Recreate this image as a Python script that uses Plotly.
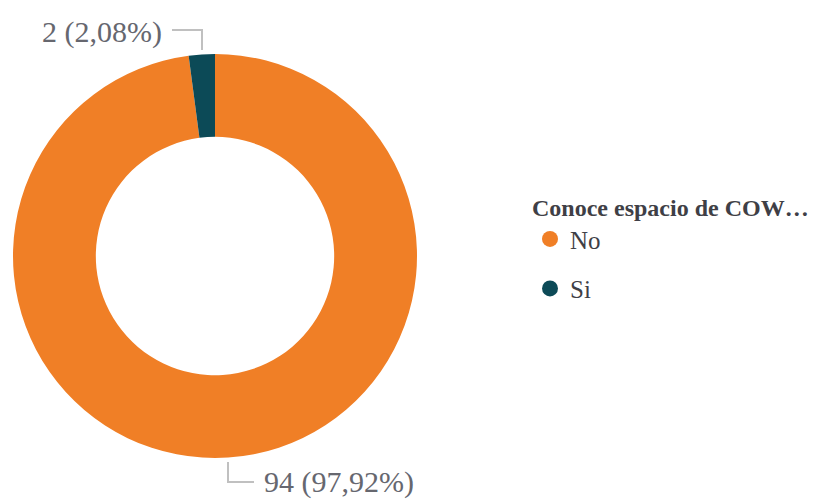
import plotly.graph_objects as go

categories = ["No", "Si"]
values = [94, 2]
colors = ["#F07F26", "#0C4A57"]
legend_title = "Conoce espacio de COW…"

# page has an 8px body margin; the figure fills the rest of the 817x502 window
OFF = 8
W, H = 817 - OFF, 502 - OFF
total = sum(values)

def fmt(v):
    pct = v / total * 100
    return f"{v} ({pct:.2f}%)".replace(".", ",")

def px(x, y):
    return (x - OFF) / W, 1 - (y - OFF) / H

fig = go.Figure()
dx0, dy1 = px(13, 54)
dx1, dy0 = px(417, 458)
fig.add_trace(go.Pie(
    labels=categories, values=values, hole=0.59, sort=False,
    direction="clockwise", rotation=0,
    marker=dict(colors=colors, line=dict(width=0)),
    textinfo="none", showlegend=False, hoverinfo="label+value+percent",
    domain=dict(x=[dx0, dx1], y=[dy0, dy1]),
))

# legend entries with round markers
for c, col in zip(categories, colors):
    fig.add_trace(go.Scatter(
        x=[None], y=[None], mode="markers", name=c, legendgroup=c,
        marker=dict(symbol="circle", size=18, color=col),
    ))

line_style = dict(color="#C0C0C0", width=2)
# leader line for Si
x0, y0 = px(172, 30); x1, y1 = px(202, 30); x2, y2 = px(202, 50)
fig.add_shape(type="path", path=f"M {x0} {y0} L {x1} {y1} L {x2} {y2}",
              xref="paper", yref="paper", line=line_style)
# leader line for No
x0, y0 = px(228, 462); x1, y1 = px(228, 482); x2, y2 = px(254, 482)
fig.add_shape(type="path", path=f"M {x0} {y0} L {x1} {y1} L {x2} {y2}",
              xref="paper", yref="paper", line=line_style)

lab_font = dict(family="Liberation Serif, Times New Roman, serif", size=30, color="#66676F")
ax, ay = px(164, 32)
fig.add_annotation(x=ax, y=ay, xref="paper", yref="paper", text=fmt(values[1]),
                   showarrow=False, xanchor="right", yanchor="middle", font=lab_font)
ax, ay = px(262, 482)
fig.add_annotation(x=ax, y=ay, xref="paper", yref="paper", text=fmt(values[0]),
                   showarrow=False, xanchor="left", yanchor="middle", font=lab_font)

lx, ly = px(530, 185)
fig.update_layout(
    width=W, height=H, margin=dict(l=0, r=0, t=0, b=0),
    paper_bgcolor="white", plot_bgcolor="white",
    xaxis=dict(visible=False), yaxis=dict(visible=False),
    legend=dict(
        title=dict(text=f"<b>{legend_title}</b>",
                   font=dict(family="Liberation Serif, serif", size=24, color="#3F3F46")),
        font=dict(family="Liberation Serif, serif", size=25, color="#3F3F46"),
        x=lx, y=ly, xanchor="left", yanchor="top",
        tracegroupgap=14, itemsizing="trace",
    ),
)

fig.write_html("out.html")
